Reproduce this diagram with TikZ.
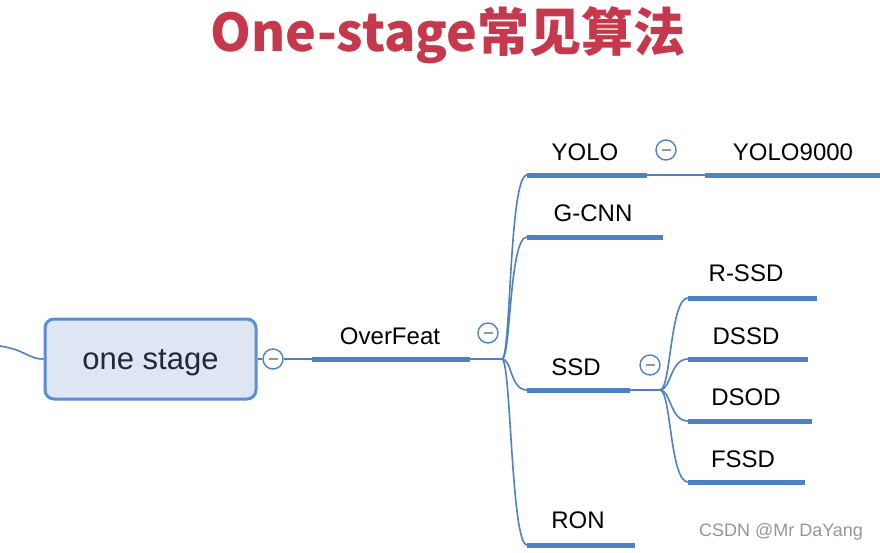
\documentclass[tikz,border=0pt]{standalone}
\usepackage{fontspec}
\setmainfont{Liberation Sans}
\newfontfamily\cjk{Noto Sans CJK SC}
\definecolor{mblue}{RGB}{78,128,196}
\definecolor{mlblue}{RGB}{222,230,243}
\definecolor{mbord}{RGB}{92,142,212}
\definecolor{mred}{RGB}{198,56,76}
\definecolor{mink}{RGB}{32,40,58}
\definecolor{mgray}{RGB}{150,150,150}
\usetikzlibrary{positioning}

\begin{document}
\begin{tikzpicture}[x=1pt, y=-1pt,
    stagebox/.style={draw=mbord, line width=3pt, fill=mlblue, rounded corners=9pt,
                minimum width=211pt, minimum height=80pt, font=\fontsize{31}{34}\selectfont,
                text=mink, text depth=0pt},
    lbl/.style={font=\fontsize{24}{27}\selectfont, text=black, inner sep=1pt},
    fold/.style={circle, draw=mblue, line width=1.4pt, fill=white, minimum size=20pt, inner sep=0pt,
                path picture={\draw[mgray, line width=1.6pt]
                  ([xshift=-4.5pt]path picture bounding box.center) -- ([xshift=4.5pt]path picture bounding box.center);}},
    bar/.style={mblue, line width=5pt},
    link/.style={mblue, line width=1.6pt},
  ]
    \useasboundingbox (0,0) rectangle (880,552);

    % title
    \node[font=\cjk\bfseries\fontsize{52}{58}\selectfont, text=mred] (title) at (448,35) {One-stage常见算法};

    % root
    \node[stagebox] (one) at (150.5,359) {one stage};
    \coordinate (inL) at (0,346);
    \draw[link] (inL) .. controls (26,350) and (28,359) .. (one.west);
    \node[fold] (f0) at (273,359) {};
    \draw[link] (one.east) -- (f0.west);

    % OverFeat
    \coordinate (ofL) at (312,359);
    \coordinate (ofR) at (470,359);
    \coordinate (hub1) at (502,359);
    \node[lbl] (of) at (390,336) {OverFeat};
    \node[fold] (f1) at (488,333) {};
    \draw[link] (f0.east) -- (ofL);
    \draw[bar] (ofL) -- (ofR);
    \draw[link] (ofR) -- (hub1);

    % first level
    \coordinate (yoloL) at (527,175);  \coordinate (yoloR) at (647,175);
    \coordinate (gcnnL) at (527,237);  \coordinate (gcnnR) at (663,237);
    \coordinate (ssdL)  at (527,390);  \coordinate (ssdR)  at (630,390);
    \coordinate (ronL)  at (527,545);  \coordinate (ronR)  at (635,545);
    \node[lbl] (yolo) at (585,152) {YOLO};
    \node[lbl] (gcnn) at (593,213) {G-CNN};
    \node[lbl] (ssd)  at (576,367) {SSD};
    \node[lbl] (ron)  at (578,520) {RON};
    \draw[bar] (yoloL) -- (yoloR);
    \draw[bar] (gcnnL) -- (gcnnR);
    \draw[bar] (ssdL) -- (ssdR);
    \draw[bar] (ronL) -- (ronR);
    \draw[link] (hub1) .. controls (511,359) and (509,175) .. (yoloL);
    \draw[link] (hub1) .. controls (511,359) and (509,237) .. (gcnnL);
    \draw[link] (hub1) .. controls (512,359) and (510,390) .. (ssdL);
    \draw[link] (hub1) .. controls (511,359) and (511,545) .. (ronL);

    % YOLO9000
    \node[fold] (f2) at (666,150) {};
    \coordinate (y9L) at (705,175);  \coordinate (y9R) at (880,175);
    \node[lbl] (y9) at (793,152) {YOLO9000};
    \draw[link] (yoloR) -- (y9L);
    \draw[bar] (y9L) -- (y9R);

    % SSD family
    \node[fold] (f3) at (650,365) {};
    \coordinate (hub2) at (660,390);
    \draw[link] (ssdR) -- (hub2);
    \coordinate (rssdL) at (688,298);  \coordinate (rssdR) at (817,298);
    \coordinate (dssdL) at (688,359);  \coordinate (dssdR) at (808,359);
    \coordinate (dsodL) at (688,421);  \coordinate (dsodR) at (812,421);
    \coordinate (fssdL) at (688,482);  \coordinate (fssdR) at (805,482);
    \node[lbl] (rssd) at (746,273) {R-SSD};
    \node[lbl] (dssd) at (746,336) {DSSD};
    \node[lbl] (dsod) at (746,397) {DSOD};
    \node[lbl] (fssd) at (743,459) {FSSD};
    \draw[bar] (rssdL) -- (rssdR);
    \draw[bar] (dssdL) -- (dssdR);
    \draw[bar] (dsodL) -- (dsodR);
    \draw[bar] (fssdL) -- (fssdR);
    \draw[link] (hub2) .. controls (671,390) and (670,298) .. (rssdL);
    \draw[link] (hub2) .. controls (671,390) and (670,359) .. (dssdL);
    \draw[link] (hub2) .. controls (671,390) and (670,421) .. (dsodL);
    \draw[link] (hub2) .. controls (671,390) and (670,482) .. (fssdL);

    % watermark
    \node[font=\fontsize{18}{20}\selectfont, text=mgray] (mark) at (781,532) {CSDN @Mr DaYang};
  \end{tikzpicture}
\end{document}
